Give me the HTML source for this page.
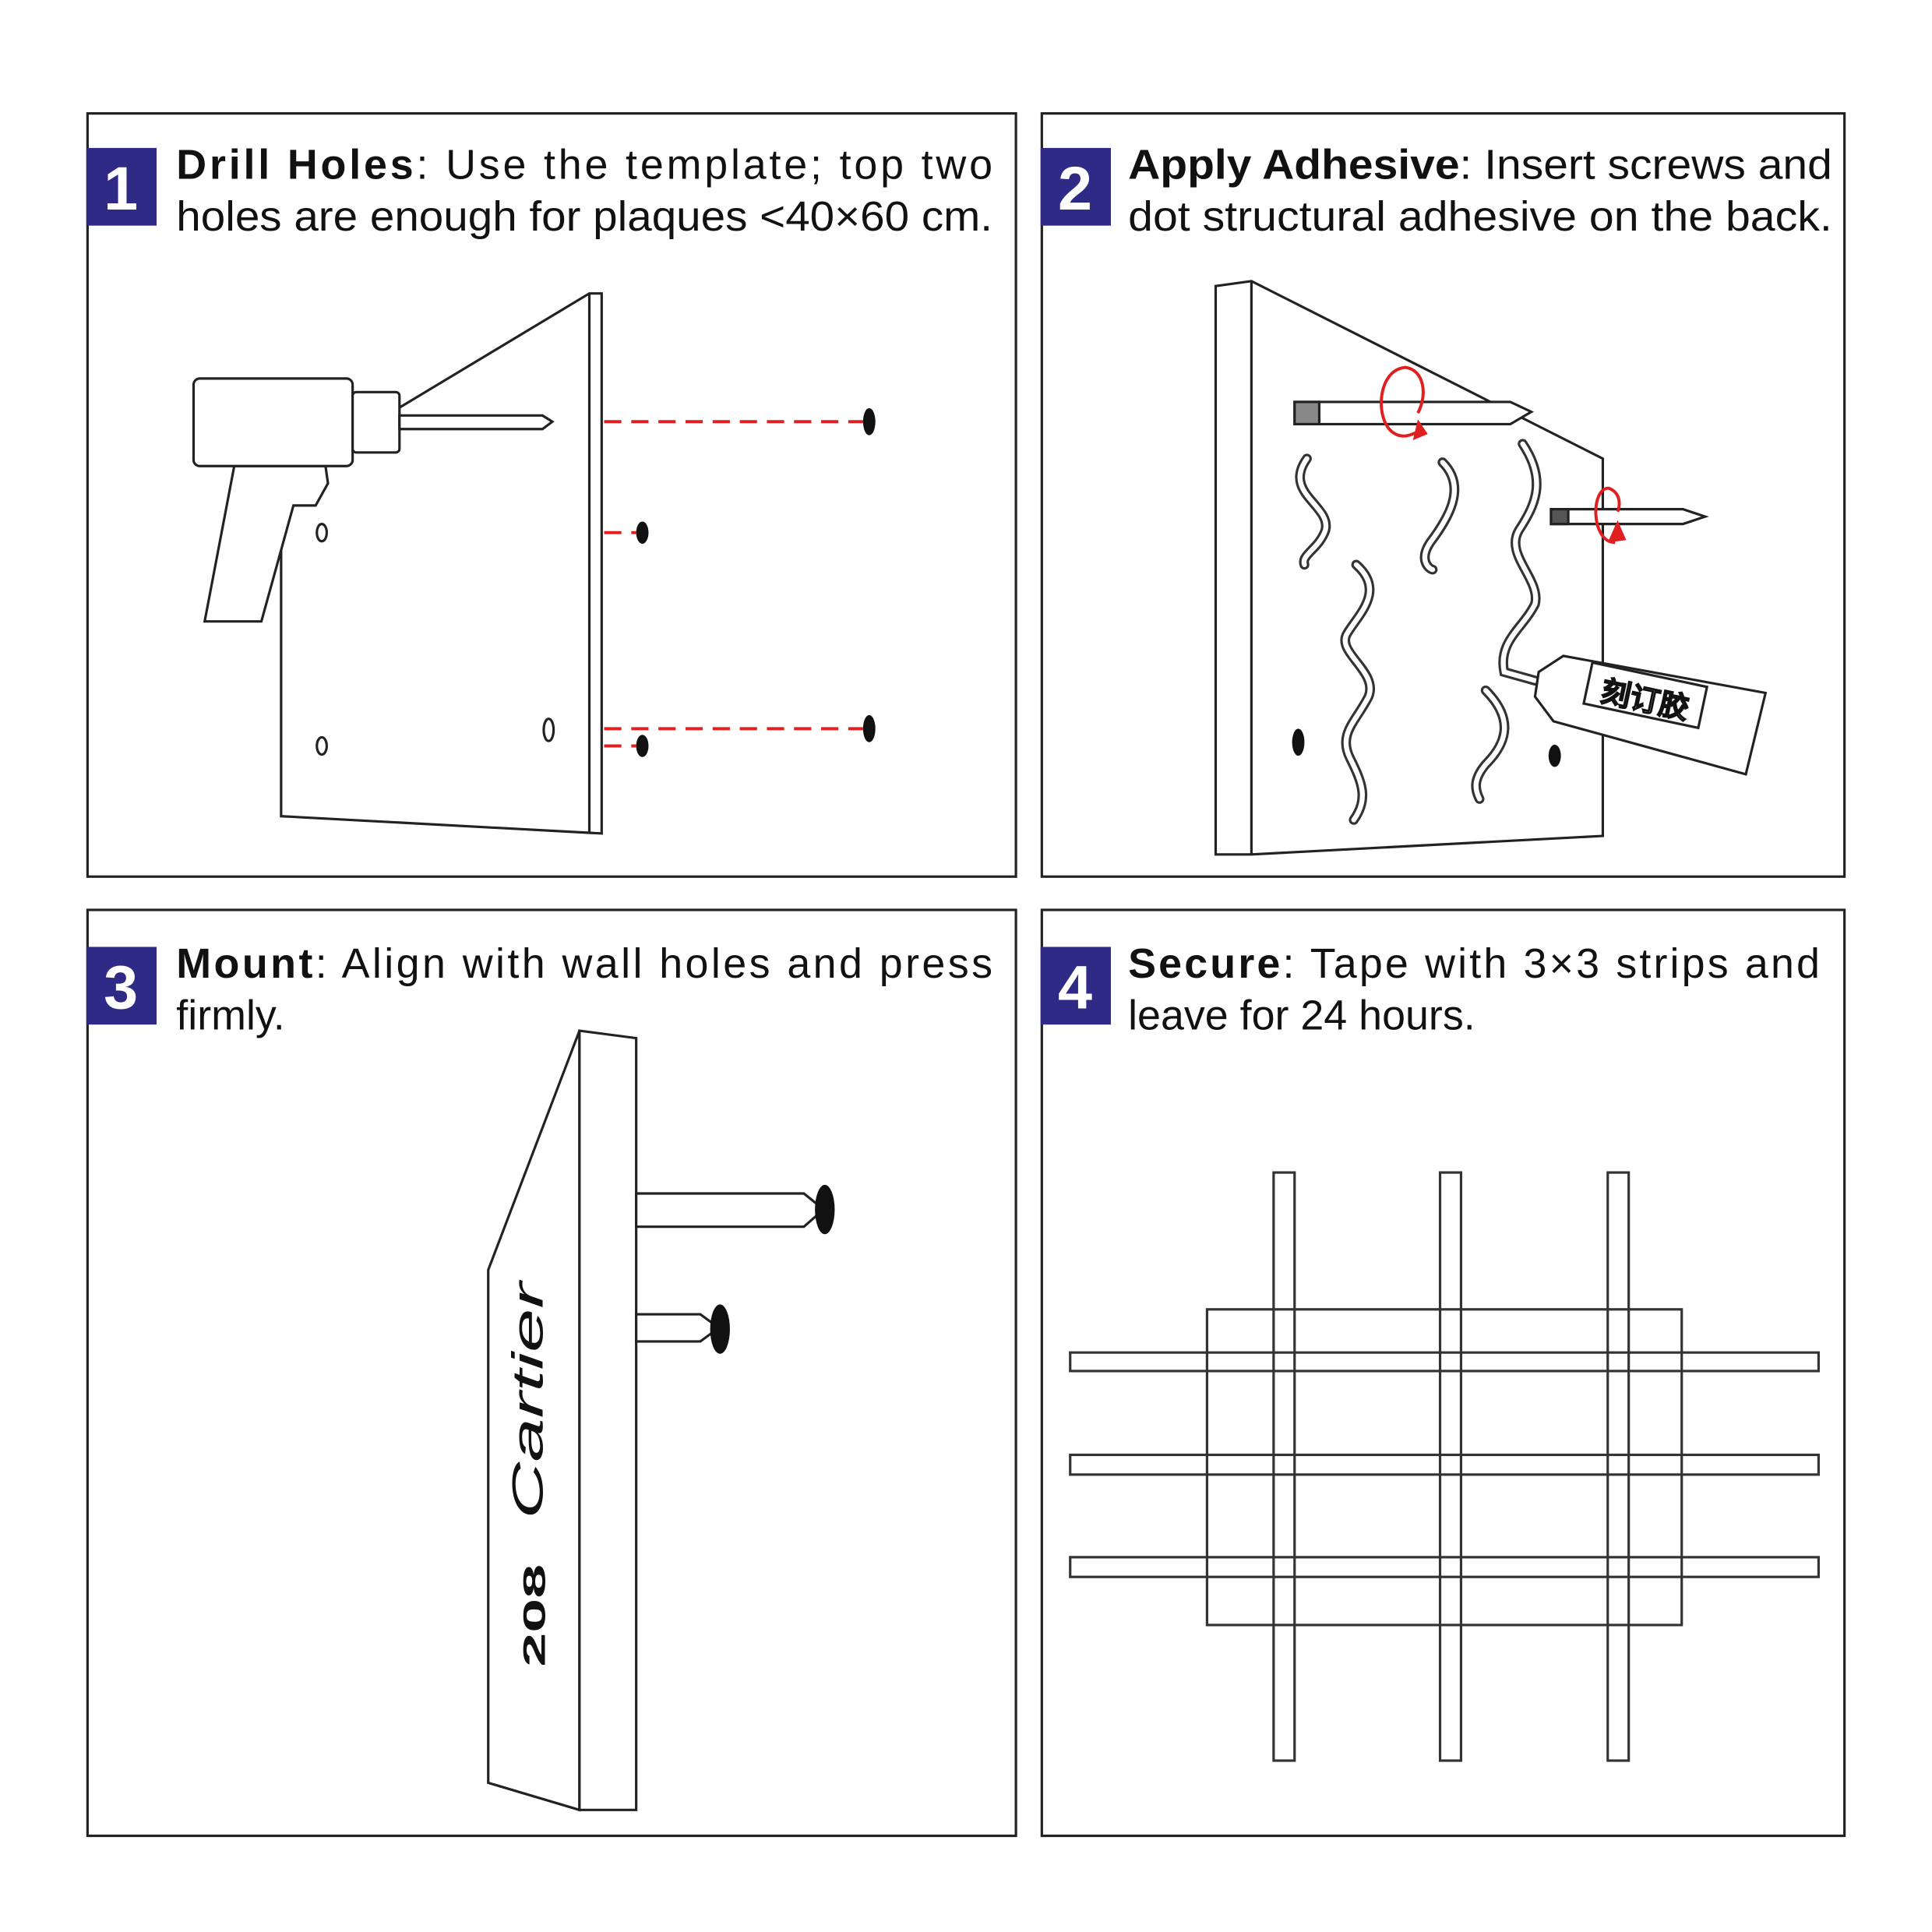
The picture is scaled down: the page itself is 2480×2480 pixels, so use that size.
<!DOCTYPE html>
<html><head><meta charset="utf-8"><style>
html,body{margin:0;padding:0;background:#fff;}
svg{display:block;}
text{font-family:"Liberation Sans",sans-serif;}
</style></head><body>
<svg width="2480" height="2480" viewBox="0 0 1567 1567" xmlns="http://www.w3.org/2000/svg">
<rect width="1567" height="1567" fill="#fff"/>
<g fill="none" stroke="#222" stroke-width="2">
<rect x="71" y="92" width="753" height="619"/>
<rect x="845" y="92" width="651" height="619"/>
<rect x="71" y="738" width="753" height="751"/>
<rect x="845" y="738" width="651" height="751"/>
</g>
<g fill="#2e2a85">
<rect x="70" y="120" width="57" height="63"/>
<rect x="844" y="120" width="57" height="63"/>
<rect x="70" y="768" width="57" height="63"/>
<rect x="844" y="768" width="57" height="63"/>
</g>
<g fill="#fff" font-size="50" font-weight="bold" text-anchor="middle">
<text x="98" y="170">1</text><text x="872" y="170">2</text>
<text x="98" y="818">3</text><text x="872" y="818">4</text>
</g>
<g fill="#111" font-size="34">
<text x="143" y="145" textLength="662" lengthAdjust="spacing"><tspan font-weight="bold">Drill Holes</tspan>: Use the template; top two</text>
<text x="143" y="187" textLength="662" lengthAdjust="spacingAndGlyphs">holes are enough for plaques &lt;40×60 cm.</text>
<text x="915" y="145" textLength="571" lengthAdjust="spacingAndGlyphs"><tspan font-weight="bold">Apply Adhesive</tspan>: Insert screws and</text>
<text x="915" y="187" textLength="571" lengthAdjust="spacingAndGlyphs">dot structural adhesive on the back.</text>
<text x="143" y="793" textLength="662" lengthAdjust="spacing"><tspan font-weight="bold">Mount</tspan>: Align with wall holes and press</text>
<text x="143" y="835">firmly.</text>
<text x="915" y="793" textLength="561" lengthAdjust="spacing"><tspan font-weight="bold">Secure</tspan>: Tape with 3×3 strips and</text>
<text x="915" y="835">leave for 24 hours.</text>
</g>
<!-- Panel 1 -->
<g fill="#fff" stroke="#222" stroke-width="2">
<polygon points="228,390 325,330 478,238 488,238 488,676 228,662"/>
<line x1="478" y1="238" x2="478" y2="676"/>
<polygon points="240,378 264,378 266,392 256,410 238,410 212,504 166,504 190,378"/>
<rect x="157" y="307" width="129" height="71" rx="5"/>
<rect x="286" y="318" width="38" height="49" rx="3"/>
<polygon points="324,337 440,337 448,342 440,348 324,348"/>
<ellipse cx="261" cy="432" rx="4" ry="7"/>
<ellipse cx="261" cy="605" rx="4" ry="7"/>
<ellipse cx="445" cy="592" rx="4" ry="9"/>
</g>
<g stroke="#e02020" stroke-width="2.5" stroke-dasharray="14,8" fill="none">
<line x1="490" y1="342" x2="700" y2="342"/>
<line x1="490" y1="432" x2="516" y2="432"/>
<line x1="490" y1="591" x2="700" y2="591"/>
<line x1="490" y1="605" x2="516" y2="605"/>
</g>
<g fill="#111">
<ellipse cx="705" cy="342" rx="5" ry="11"/><ellipse cx="521" cy="432" rx="5" ry="9"/>
<ellipse cx="705" cy="591" rx="5" ry="11"/><ellipse cx="521" cy="605" rx="5" ry="9"/>
</g>
<!-- Panel 2 -->
<g fill="#fff" stroke="#222" stroke-width="2">
<polygon points="986,232 1015,228 1300,372 1300,678 1015,693 986,693"/>
<line x1="1015" y1="228" x2="1015" y2="693"/>
</g>
<g fill="none" stroke="#333" stroke-width="8" stroke-linecap="round">
<path d="M1060,372 C1040,400 1080,410 1075,430 C1070,445 1055,450 1058,458"/>
<path d="M1170,375 C1190,395 1175,420 1160,440 C1150,455 1160,462 1162,462"/>
<path d="M1235,360 C1255,390 1245,410 1232,430 C1220,450 1250,470 1245,490 C1235,510 1215,520 1220,545 L1245,552"/>
<path d="M1100,458 C1125,480 1100,500 1092,515 C1085,530 1118,545 1110,565 C1100,585 1085,595 1095,615 C1105,635 1110,648 1098,665"/>
<path d="M1205,560 C1230,585 1220,605 1205,620 C1195,632 1196,640 1200,648"/>
</g>
<g fill="none" stroke="#fff" stroke-width="4" stroke-linecap="round">
<path d="M1060,372 C1040,400 1080,410 1075,430 C1070,445 1055,450 1058,458"/>
<path d="M1170,375 C1190,395 1175,420 1160,440 C1150,455 1160,462 1162,462"/>
<path d="M1235,360 C1255,390 1245,410 1232,430 C1220,450 1250,470 1245,490 C1235,510 1215,520 1220,545 L1245,552"/>
<path d="M1100,458 C1125,480 1100,500 1092,515 C1085,530 1118,545 1110,565 C1100,585 1085,595 1095,615 C1105,635 1110,648 1098,665"/>
<path d="M1205,560 C1230,585 1220,605 1205,620 C1195,632 1196,640 1200,648"/>
</g>
<g fill="#111"><ellipse cx="1053" cy="602" rx="5" ry="11"/><ellipse cx="1261" cy="613" rx="5" ry="9"/></g>
<g fill="#fff" stroke="#222" stroke-width="2">
<polygon points="1050,326 1225,326 1242,334 1225,344 1050,344"/>
<rect x="1050" y="326" width="20" height="18" fill="#888"/>
<polygon points="1258,413 1365,413 1383,419 1365,425 1258,425"/>
<rect x="1258" y="413" width="14" height="12" fill="#555"/>
<polygon points="1248,545 1268,532 1432,562 1416,628 1260,585 1245,565"/>
<rect x="1287" y="547" width="95" height="34" transform="rotate(12 1335 564)"/>
</g>
<text x="1335" y="576" font-size="24" font-weight="bold" text-anchor="middle" transform="rotate(12 1335 564)" fill="#fff" stroke="#111" stroke-width="1" font-family="Noto Sans CJK SC,sans-serif">刻订胶</text>
<g fill="none" stroke="#e02020" stroke-width="2.5">
<path d="M1150,350 C1115,370 1110,300 1140,298 C1155,300 1158,320 1150,335"/>
<path d="M1310,440 C1290,440 1290,395 1305,396 C1315,400 1314,410 1312,415"/>
</g>
<g fill="#e02020"><polygon points="1146,357 1150,340 1158,352"/><polygon points="1304,440 1312,422 1319,438"/></g>
<!-- Panel 3 -->
<g fill="#fff" stroke="#222" stroke-width="2">
<polygon points="396,1030 470,836 470,1468 396,1446"/>
<polygon points="470,836 516,842 516,1468 470,1468"/>
<polygon points="516,968 652,968 668,981 652,995 516,995"/>
<polygon points="516,1066 568,1066 583,1077 568,1088 516,1088"/>
</g>
<g fill="#111"><ellipse cx="669" cy="981" rx="8" ry="20"/><ellipse cx="584" cy="1078" rx="8" ry="20"/></g>
<text x="0" y="0" font-size="64" font-style="italic" fill="#111" transform="translate(440,1232) rotate(-90) scale(1,0.55)" font-family="Liberation Serif,serif">Cartier</text>
<text x="0" y="0" font-size="50" font-weight="bold" fill="#111" transform="translate(442,1352) rotate(-90) scale(1,0.5)">208</text>
<!-- Panel 4 -->
<g fill="none" stroke="#333" stroke-width="2">
<rect x="979" y="1062" width="385" height="256"/>
<rect x="1033" y="951" width="17" height="477"/>
<rect x="1168" y="951" width="17" height="477"/>
<rect x="1304" y="951" width="17" height="477"/>
<rect x="868" y="1097" width="607" height="15"/>
<rect x="868" y="1180" width="607" height="16"/>
<rect x="868" y="1263" width="607" height="16"/>
</g>
</svg>
</body></html>
